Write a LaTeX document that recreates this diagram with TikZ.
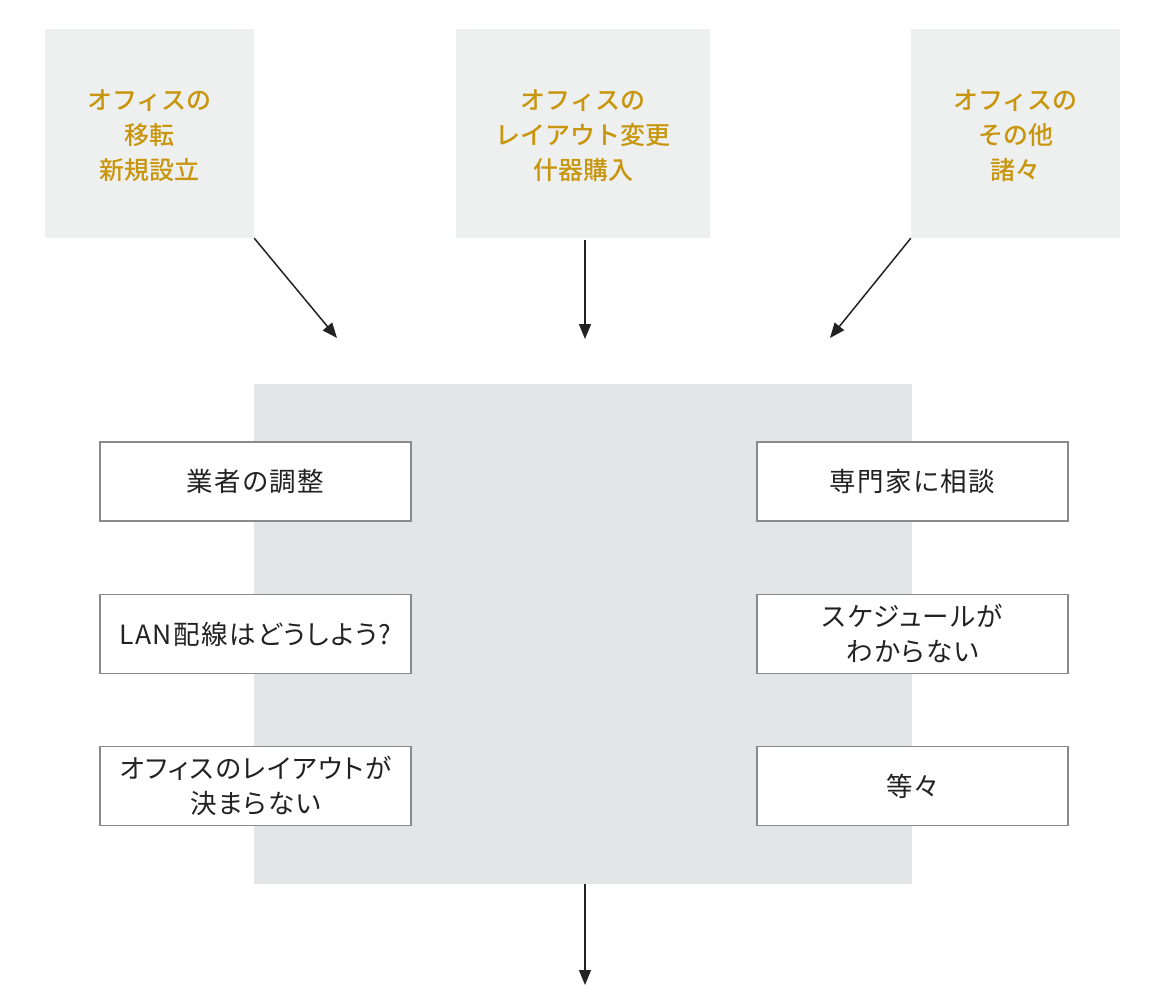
\documentclass[tikz,border=0pt]{standalone}
\usepackage{fontspec}
\setmainfont{Noto Sans CJK JP}[UprightFont=* Medium]
\newfontfamily\boxfont{Noto Sans CJK JP}[RawFeature=+palt, LetterSpace=5.5]
\usetikzlibrary{arrows.meta}
\definecolor{topfill}{HTML}{EEEFEF}
\definecolor{gold}{HTML}{C8960C}
\definecolor{bigfill}{HTML}{E3E6E9}
\definecolor{boxline}{HTML}{8A8A8A}
\definecolor{ink}{HTML}{222222}
\tikzset{
  topbox/.style={fill=topfill, draw=none, minimum width=209pt, minimum height=209pt, inner sep=0pt},
  toptext/.style={align=center, text=gold, inner sep=0pt, font=\fontsize{25}{35}\selectfont},
  whitebox/.style={fill=white, draw=boxline, line width=1.2pt, minimum width=311pt, minimum height=79pt,
    inner sep=0pt, align=center, text=ink, font=\boxfont\fontsize{26.5}{35}\selectfont},
  arr/.style={draw=ink, line width=1.5pt, -{Triangle[length=15pt,width=12pt]}}
}
\begin{document}
\begin{tikzpicture}[x=1pt,y=-1pt]
\useasboundingbox (0,0) rectangle (1170,995);
\node[topbox] (t1) at (149.5,133.5) {};
\node[topbox, minimum width=254pt] (t2) at (583,133.5) {};
\node[topbox] (t3) at (1015.5,133.5) {};
\node[toptext] (t1text) at (149.5,136) {オフィスの\\移転\\新規設立};
\node[toptext] (t2text) at (583,136) {オフィスの\\レイアウト変更\\什器購入};
\node[toptext] (t3text) at (1015.5,136) {オフィスの\\その他\\諸々};
\node[fill=bigfill, minimum width=658pt, minimum height=500pt, inner sep=0pt] (big) at (583,634) {};
\node[whitebox] (l1) at (255.5,481.5) {業者の調整};
\node[whitebox] (l2) at (255.5,634) {LAN配線はどうしよう?};
\node[whitebox] (l3) at (255.5,786) {オフィスのレイアウトが\\決まらない};
\node[whitebox] (r1) at (912.5,481.5) {専門家に相談};
\node[whitebox] (r2) at (912.5,634) {スケジュールが\\わからない};
\node[whitebox] (r3) at (912.5,786) {等々};
\coordinate (e1) at (337,338);
\coordinate (e2) at (585,339);
\coordinate (e3) at (830,338);
\coordinate (e4) at (585,985);
\coordinate (s2) at (585,240);
\coordinate (s4) at (585,884);
\draw[arr] (t1.south east) -- (e1);
\draw[arr] (s2) -- (e2);
\draw[arr] (t3.south west) -- (e3);
\draw[arr] (s4) -- (e4);
\end{tikzpicture}
\end{document}
